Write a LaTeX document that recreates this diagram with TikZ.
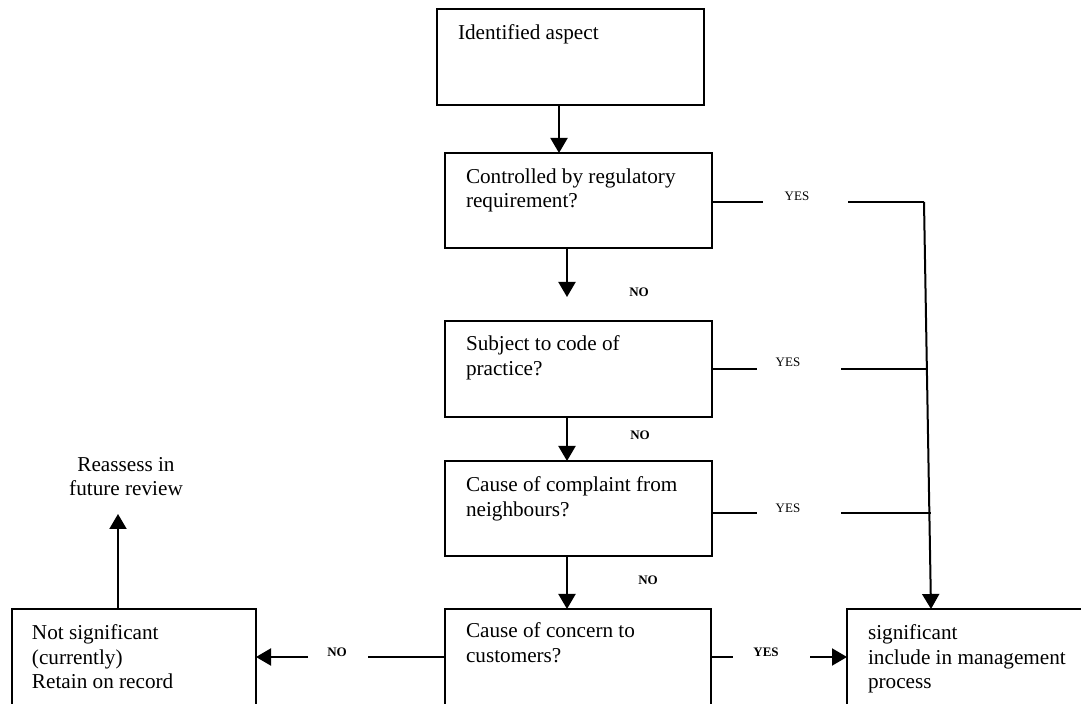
\documentclass[tikz,border=0pt]{standalone}
\usepackage{fontspec}
\setmainfont{Liberation Serif}
\usetikzlibrary{arrows.meta,calc}
\begin{document}
\begin{tikzpicture}[x=0.5pt,y=-0.5pt,
  box/.style={draw,line width=1pt,rectangle,inner sep=0,outer sep=0,anchor=north west},
  txt/.style={inner sep=0,outer sep=0,anchor=north west,align=left,font=\fontsize{10.6}{12.1}\selectfont},
  lbl/.style={inner sep=0,font=\fontsize{6.5}{7}\selectfont},
  blbl/.style={inner sep=0,font=\fontsize{6.5}{7}\selectfont\bfseries},
  ln/.style={line width=1pt},
  arr/.style={line width=1pt,-{Triangle[length=7.5pt,width=8.5pt]}}]
\useasboundingbox (0,0) rectangle (1081,704);
\clip (0,0) rectangle (1081,704);
% boxes
\node[box,minimum width=133.5pt,minimum height=48pt] (b1) at (437,9) {};
\node[box,minimum width=133.5pt,minimum height=47.5pt] (b2) at (445,153) {};
\node[box,minimum width=133.5pt,minimum height=48pt] (b3) at (445,321) {};
\node[box,minimum width=133.5pt,minimum height=47.5pt] (b4) at (445,461) {};
\node[box,minimum width=133pt,minimum height=100pt] (b5) at (445,609) {};
\node[box,minimum width=122pt,minimum height=100pt] (b0) at (12,609) {};
\node[box,minimum width=126.5pt,minimum height=100pt] (b6) at (847,609) {};
% box texts
\node[txt] (t1) at ([shift={(21,16)}]b1.north west) {Identified aspect};
\node[txt] (t2) at ([shift={(21,16)}]b2.north west) {Controlled by regulatory\\requirement?};
\node[txt] (t3) at ([shift={(21,15)}]b3.north west) {Subject to code of\\practice?};
\node[txt] (t4) at ([shift={(21,16)}]b4.north west) {Cause of complaint from\\neighbours?};
\node[txt] (t5) at ([shift={(21,14)}]b5.north west) {Cause of concern to\\customers?};
\node[txt] (t6) at ([shift={(21,16)}]b6.north west) {significant\\include in management\\process};
\node[txt] (t0) at ([shift={(20,16)}]b0.north west) {Not significant\\(currently)\\Retain on record};
\node[txt,anchor=north,align=center] (re) at (126,457) {Reassess in\\future review};
% labels
\node[lbl] (y1) at (797,196) {YES};
\node[lbl] (y2) at (788,362) {YES};
\node[lbl] (y3) at (788,508) {YES};
\node[blbl] (y4) at (766,652) {YES};
\node[blbl] (n1) at (639,292) {NO};
\node[blbl] (n2) at (640,435) {NO};
\node[blbl] (n3) at (648,580) {NO};
\node[blbl] (n4) at (337,652) {NO};
% helper coordinates
\coordinate (row5) at (0,657);
\coordinate (vtop) at (924,202);
\coordinate (vbot) at (931,609);
\coordinate (ntip) at (567,297);
\coordinate (rtip) at (118,514);
% vertical flow
\draw[arr] ([xshift=61pt]b1.south west) -- ([xshift=57pt]b2.north west);
\draw[arr] ([xshift=61pt]b2.south west) -- (ntip);
\draw[arr] ([xshift=61pt]b3.south west) -- ([xshift=61pt]b4.north west);
\draw[arr] ([xshift=61pt]b4.south west) -- ([xshift=61pt]b5.north west);
% YES lines on right
\draw[ln] ([yshift=-0.75pt]b2.east) -- ++(51,0);
\draw[ln] (848,202) -- (vtop);
\draw[arr] (vtop) -- (b6.north -| vbot);
\draw[ln] (b3.east) -- ++(45,0);
\draw[ln] (841,369) -- (926.8,369);
\draw[ln] ([yshift=-2.25pt]b4.east) -- ++(45,0);
\draw[ln] (841,513) -- (931,513);
% bottom row
\draw[ln] (b5.east |- row5) -- (733,657);
\draw[arr] (810,657) -- (b6.west |- row5);
\draw[ln] (b5.west |- row5) -- (368,657);
\draw[arr] (308,657) -- (b0.east |- row5);
\draw[arr] (b0.north -| rtip) -- (rtip);
\end{tikzpicture}
\end{document}
